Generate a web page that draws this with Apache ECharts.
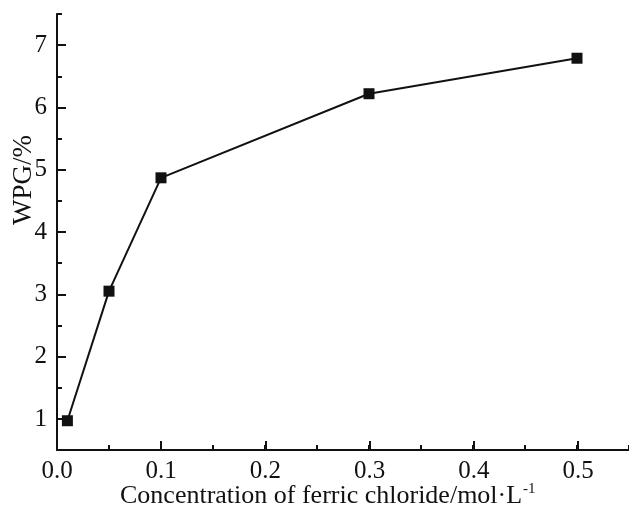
<!DOCTYPE html>
<html>
<head>
<meta charset="utf-8">
<script src="https://cdn.jsdelivr.net/npm/echarts@6/dist/echarts.min.js"></script>
<style>
    html, body { margin: 0; padding: 0; background: #fff; }
    #chartWrapper { width: 629px; height: 510px; }
</style>
</head>
<body>
<div id="chartWrapper"></div>
<script>
// 数据
var concentration = [0.01, 0.05, 0.1, 0.3, 0.5];
var wpg = [0.97, 3.05, 4.87, 6.22, 6.79];
var xTickLabels = ['0.0', '0.1', '0.2', '0.3', '0.4', '0.5'];
var yTickLabels = ['1', '2', '3', '4', '5', '6', '7'];

var myChart = echarts.init(document.getElementById('chartWrapper'));
var fontFamily = '"Liberation Serif", "Times New Roman", serif';

var points = [];
for (var i = 0; i < concentration.length; i++) {
    points.push([concentration[i], wpg[i]]);
}

var option = {
    animation: false,
    backgroundColor: '#fff',
    textStyle: { fontFamily: fontFamily, color: '#111' },
    // grid0: 主坐标轴+短刻度, grid1: y轴主刻度, grid2: x轴主刻度
    grid: [
        { left: 57, right: 0, top: 14, bottom: 60 },
        { left: 57, right: 0, top: 45, bottom: 91 },
        { left: 57, right: 51, top: 14, bottom: 60 }
    ],
    xAxis: [{
        gridIndex: 0,
        type: 'value',
        min: 0,
        max: 0.55,
        interval: 0.05,
        axisLine: { lineStyle: { color: '#111', width: 2 } },
        axisTick: { inside: true, length: 5, lineStyle: { color: '#111', width: 2 } },
        axisLabel: { show: false },
        splitLine: { show: false }
    }, {
        gridIndex: 1,
        type: 'value',
        min: 0,
        max: 0.55,
        show: false
    }, {
        gridIndex: 2,
        type: 'value',
        min: 0,
        max: 0.5,
        interval: 0.1,
        axisLine: { show: false },
        axisTick: { inside: true, length: 9, lineStyle: { color: '#111', width: 2 } },
        axisLabel: {
            margin: 9,
            fontSize: 25,
            color: '#111',
            fontFamily: fontFamily,
            formatter: function(value, index) {
                return xTickLabels[index];
            }
        },
        splitLine: { show: false }
    }],
    yAxis: [{
        gridIndex: 0,
        type: 'value',
        min: 0.5,
        max: 7.5,
        interval: 0.5,
        axisLine: { show: true, lineStyle: { color: '#111', width: 2 } },
        axisTick: { show: true, inside: true, length: 5, lineStyle: { color: '#111', width: 2 } },
        axisLabel: { show: false },
        splitLine: { show: false }
    }, {
        gridIndex: 1,
        type: 'value',
        min: 1,
        max: 7,
        interval: 1,
        axisLine: { show: false },
        axisTick: { show: true, inside: true, length: 9, lineStyle: { color: '#111', width: 2 } },
        axisLabel: {
            margin: 10,
            fontSize: 25,
            color: '#111',
            fontFamily: fontFamily,
            formatter: function(value, index) {
                return yTickLabels[index];
            }
        },
        splitLine: { show: false }
    }, {
        gridIndex: 2,
        type: 'value',
        min: 0.5,
        max: 7.5,
        show: false
    }],
    graphic: [{
        type: 'text',
        left: 120,
        top: 482,
        style: {
            text: '{n|Concentration of ferric chloride/mol·L}{s|-1}',
            fill: '#111',
            rich: {
                n: { fontSize: 26, fontFamily: fontFamily, fill: '#111' },
                s: { fontSize: 15, fontFamily: fontFamily, fill: '#111', verticalAlign: 'top', padding: [0, 0, 14, 1] }
            }
        }
    }, {
        type: 'text',
        x: 24,
        y: 180,
        rotation: Math.PI / 2,
        style: {
            text: 'WPG/%',
            fontSize: 27,
            fontFamily: fontFamily,
            fill: '#111',
            align: 'center',
            verticalAlign: 'middle'
        }
    }],
    series: [{
        name: 'WPG',
        type: 'line',
        xAxisIndex: 0,
        yAxisIndex: 0,
        data: points,
        symbol: 'rect',
        symbolSize: 11,
        lineStyle: { color: '#111', width: 2 },
        itemStyle: { color: '#111' }
    }]
};

myChart.setOption(option);
</script>
</body>
</html>
